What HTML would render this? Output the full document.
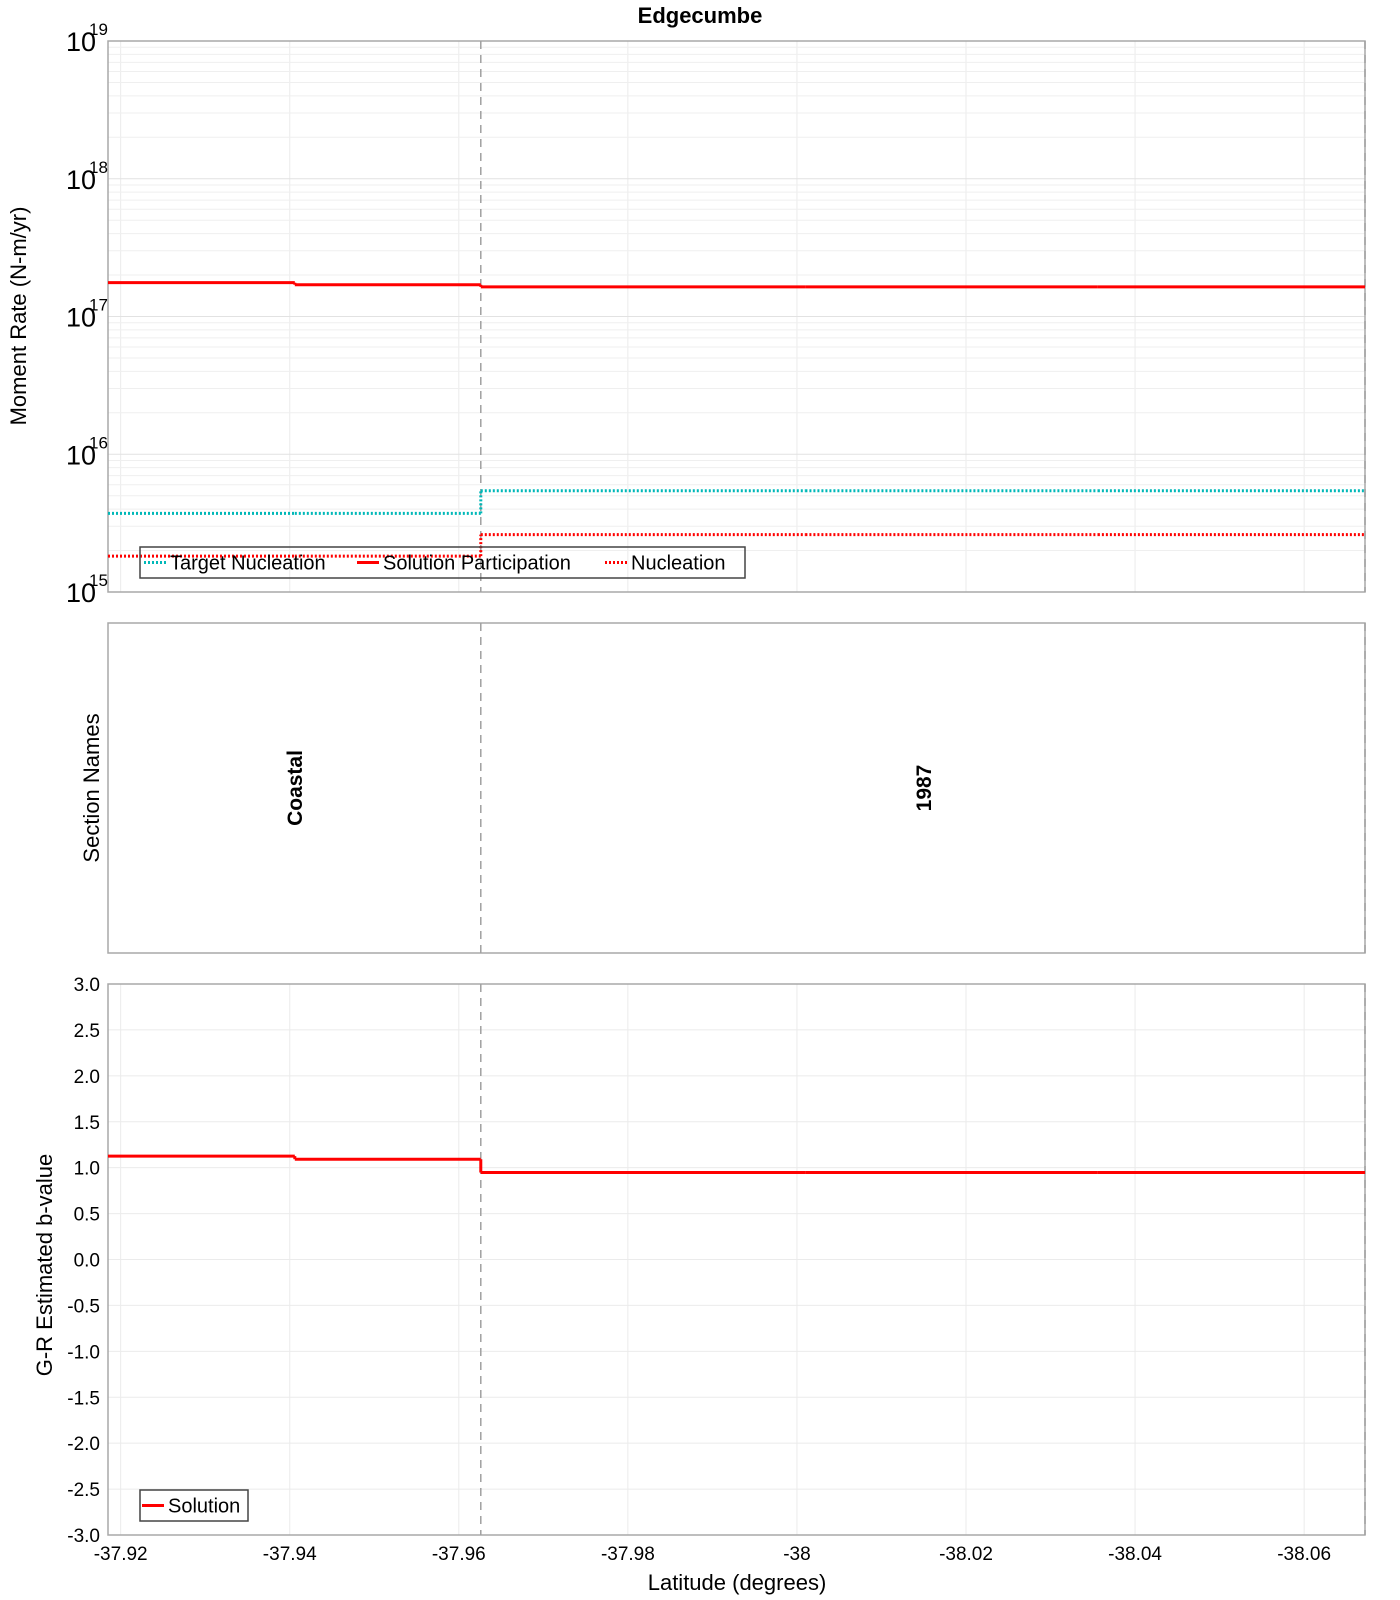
<!DOCTYPE html>
<html><head><meta charset="utf-8"><style>
html,body{margin:0;padding:0;background:#fff;}
svg{display:block;font-family:"Liberation Sans","DejaVu Sans",sans-serif;}
</style></head><body>
<svg id="chart" width="1400" height="1600" viewBox="0 0 1400 1600" xmlns="http://www.w3.org/2000/svg">
<text x="700" y="23" text-anchor="middle" font-size="22" font-weight="bold">Edgecumbe</text>
<g id="panelTop"></g>
<g id="panelMid"></g>
<g id="panelBot"></g>
<text transform="translate(26,316) rotate(-90)" text-anchor="middle" font-size="22">Moment Rate (N-m/yr)</text>
<text transform="translate(99,788) rotate(-90)" text-anchor="middle" font-size="22">Section Names</text>
<text transform="translate(52,1265) rotate(-90)" text-anchor="middle" font-size="22">G-R Estimated b-value</text>
<text x="737" y="1590" text-anchor="middle" font-size="22">Latitude (degrees)</text>
</svg>
<script>
// ---- data ----
const xTicks = [-37.92, -37.94, -37.96, -37.98, -38, -38.02, -38.04, -38.06];
const xTickLabels = ["-37.92", "-37.94", "-37.96", "-37.98", "-38", "-38.02", "-38.04", "-38.06"];
const segStarts = [-37.9185, -37.9406, -37.9626, -38.0010, -38.0356];
const segEnds = [-37.9406, -37.9626, -38.0010, -38.0356, -38.0672];
const targetNucleation = [3.72e15, 3.72e15, 5.43e15, 5.43e15, 5.43e15];
const solutionParticipation = [1.76e17, 1.70e17, 1.64e17, 1.64e17, 1.64e17];
const nucleation = [1.82e15, 1.82e15, 2.61e15, 2.61e15, 2.61e15];
const bValues = [1.126, 1.092, 0.947, 0.947, 0.947];
const sectionBoundaries = [-37.9626, -38.0672];
const sectionNames = ["Coastal", "1987"];
const sectionCenters = [-37.9405, -38.0149];
const logDecades = [15, 16, 17, 18, 19];
const bTicks = [-3, -2.5, -2, -1.5, -1, -0.5, 0, 0.5, 1, 1.5, 2, 2.5, 3];

// ---- layout ----
const L = 108, R = 1365;
const TOP = {t: 41, b: 592}, MID = {t: 623, b: 953}, BOT = {t: 984, b: 1535};
const X0 = -37.9185, X1 = -38.0672;
const NS = "http://www.w3.org/2000/svg";
function x(v) { return L + (v - X0) / (X1 - X0) * (R - L); }
function yLog(v) { return TOP.b - (Math.log10(v) - 15) / 4 * (TOP.b - TOP.t); }
function yB(v) { return BOT.b - (v + 3) / 6 * (BOT.b - BOT.t); }
function mk(parent, tag, attrs, text) {
  const e = document.createElementNS(NS, tag);
  for (const k in attrs) e.setAttribute(k, attrs[k]);
  if (text !== undefined) e.textContent = text;
  parent.appendChild(e);
  return e;
}
const gTop = document.getElementById('panelTop'), gMid = document.getElementById('panelMid'), gBot = document.getElementById('panelBot');

// vertical grid lines
[[gTop, TOP], [gBot, BOT]].forEach(([g, P]) => {
  xTicks.forEach(t => {
    const l = mk(g, 'line', {x1: x(t), x2: x(t), y1: P.t, y2: P.b, stroke: '#ebebeb', 'stroke-width': 1});
    
    
  });
});
// log grid
for (let d = 15; d < 19; d++) {
  for (let m = 1; m <= 9; m++) {
    const v = m * Math.pow(10, d);
    const l = mk(gTop, 'line', {x1: L, x2: R, y1: yLog(v), y2: yLog(v), stroke: m === 1 ? '#e2e2e2' : '#efefef', 'stroke-width': 1});
    
    
  }
}
// b grid
bTicks.forEach(t => {
  const l = mk(gBot, 'line', {x1: L, x2: R, y1: yB(t), y2: yB(t), stroke: '#ebebeb', 'stroke-width': 1});
  
  
});
// frames
[[gTop, TOP], [gMid, MID], [gBot, BOT]].forEach(([g, P]) => {
  const r = mk(g, 'rect', {x: L, y: P.t, width: R - L, height: P.b - P.t, fill: 'none', stroke: '#a8a8a8', 'stroke-width': 1.5});
  
  
});
// section boundaries
[[gTop, TOP], [gMid, MID], [gBot, BOT]].forEach(([g, P]) => {
  sectionBoundaries.forEach(b => {
    const l = mk(g, 'line', {x1: x(b), x2: x(b), y1: P.t, y2: P.b, stroke: '#a0a0a0', 'stroke-width': 1.5, 'stroke-dasharray': '8,6'});
    
    
  });
});
// section names
sectionNames.forEach((n, i) => {
  const cx = x(sectionCenters[i]) + 8, cy = (MID.t + MID.b) / 2;
  const t = mk(gMid, 'text', {transform: `translate(${cx},${cy}) rotate(-90)`, 'text-anchor': 'middle', 'font-size': 21, 'font-weight': 'bold'}, n);
  
  
});
// series
function steps(g, arr, yf, color, w, dash, name) {
  arr.forEach((v, i) => {
    const l = mk(g, 'line', {x1: x(segStarts[i]), x2: x(segEnds[i]), y1: yf(v), y2: yf(v), stroke: color, 'stroke-width': w});
    if (dash) l.setAttribute('stroke-dasharray', dash);
    
    
    if (i > 0 && arr[i - 1] !== v) {
      const c = mk(g, 'line', {x1: x(segStarts[i]), x2: x(segStarts[i]), y1: yf(arr[i - 1]), y2: yf(v), stroke: color, 'stroke-width': w});
      if (dash) c.setAttribute('stroke-dasharray', dash);
      
      
    }
  });
}
steps(gTop, targetNucleation, yLog, '#00b8b8', 3, '2,2', 'target-nucleation-line');
steps(gTop, nucleation, yLog, '#ff0000', 3, '2,2', 'nucleation-line');
steps(gTop, solutionParticipation, yLog, '#ff0000', 3, null, 'solution-participation-line');
steps(gBot, bValues, yB, '#ff0000', 3, null, 'b-value-solution-line');

// top y ticks
logDecades.forEach(d => {
  const y = yLog(Math.pow(10, d));
  const t = mk(gTop, 'text', {x: 96, y: y + 10, 'text-anchor': 'end', 'font-size': 27}, '10');
  
  
  const s = mk(gTop, 'text', {x: 89, y: y - 6, 'font-size': 17}, String(d));
  
  
});
// bottom y ticks
bTicks.forEach(v => {
  const t = mk(gBot, 'text', {x: 100, y: yB(v) + 7, 'text-anchor': 'end', 'font-size': 19}, v.toFixed(1));
  
  
});
// x ticks
xTicks.forEach((v, i) => {
  const t = mk(gBot, 'text', {x: x(v), y: 1560, 'text-anchor': 'middle', 'font-size': 19}, xTickLabels[i]);
  
  
});

// legends
function legend(g, bx, by, bw, bh, items) {
  const r = mk(g, 'rect', {x: bx, y: by, width: bw, height: bh, fill: 'none', stroke: '#444', 'stroke-width': 1.5});
  
  
  items.forEach(it => {
    const cy = by + bh / 2;
    const l = mk(g, 'line', {x1: it.x, x2: it.x + 22, y1: cy, y2: cy, stroke: it.color, 'stroke-width': 3});
    if (it.dash) l.setAttribute('stroke-dasharray', '2,2');
    
    
    const t = mk(g, 'text', {x: it.x + 26, y: cy + 7, 'font-size': 20}, it.label);
    
    
  });
}
legend(gTop, 140, 547, 605, 31, [
  {x: 144, color: '#00b8b8', dash: true, label: 'Target Nucleation'},
  {x: 357, color: '#ff0000', dash: false, label: 'Solution Participation'},
  {x: 605, color: '#ff0000', dash: true, label: 'Nucleation'}
]);
legend(gBot, 140, 1490, 108, 31, [
  {x: 142, color: '#ff0000', dash: false, label: 'Solution'}
]);
</script>
</body></html>
